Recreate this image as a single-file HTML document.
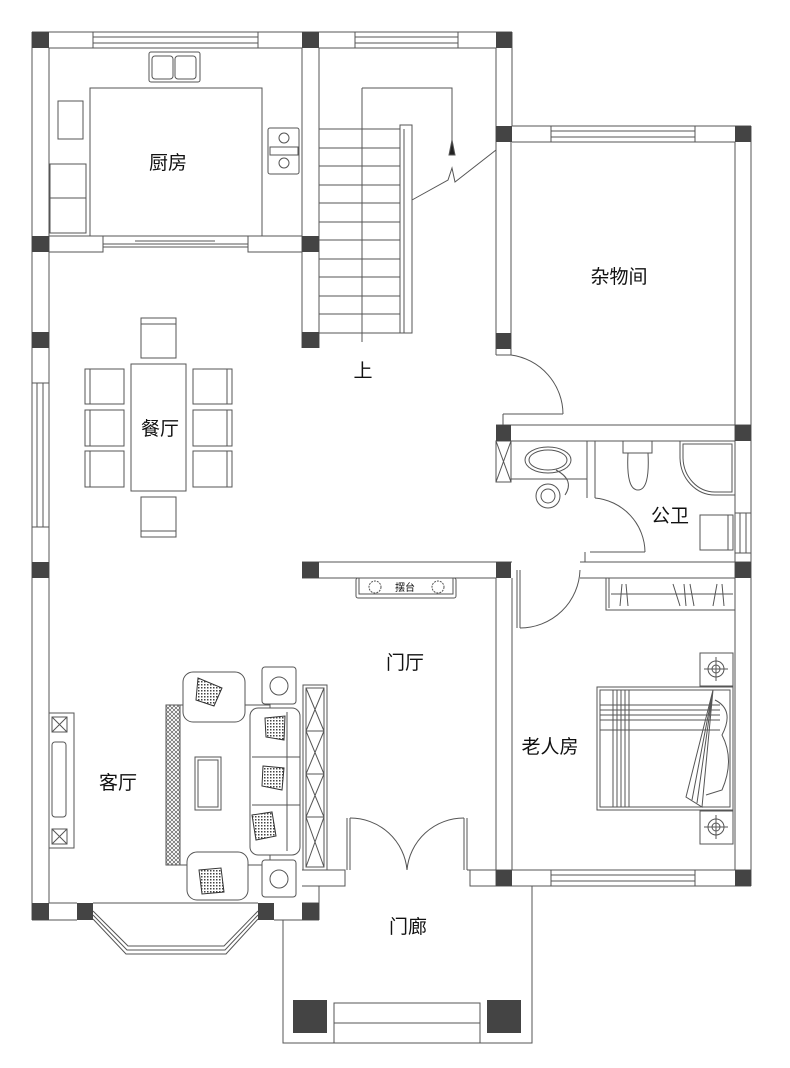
<!DOCTYPE html>
<html><head><meta charset="utf-8"><style>
html,body{margin:0;padding:0;background:#fff}
svg{display:block}
text{font-family:"Liberation Sans","Noto Sans CJK SC",sans-serif;fill:#111}
</style></head><body>
<svg width="790" height="1068" viewBox="0 0 790 1068" xmlns="http://www.w3.org/2000/svg">
<defs>
<pattern id="h" width="4" height="4" patternUnits="userSpaceOnUse"><path d="M0 4L4 0M0 0L4 4" stroke="#444" stroke-width="0.6"/></pattern>
<pattern id="d" width="3" height="3" patternUnits="userSpaceOnUse"><rect width="3" height="3" fill="#fff"/><rect width="1.5" height="1.5" fill="#444"/></pattern>
</defs>
<g fill="none" stroke="#555" stroke-width="1">
<line x1="32" y1="32" x2="32" y2="920"/><line x1="49" y1="48" x2="49" y2="903"/>
<line x1="32" y1="32" x2="512" y2="32"/><line x1="49" y1="48" x2="302" y2="48"/><line x1="319" y1="48" x2="496" y2="48"/>
<rect x="93" y="32" width="165" height="16"/><line x1="93" y1="37" x2="258" y2="37"/><line x1="93" y1="43" x2="258" y2="43"/>
<rect x="355" y="32" width="103" height="16"/><line x1="355" y1="37" x2="458" y2="37"/><line x1="355" y1="43" x2="458" y2="43"/>
<line x1="302" y1="48" x2="302" y2="348"/><line x1="319" y1="48" x2="319" y2="348"/>
<line x1="496" y1="48" x2="496" y2="150"/><line x1="512" y1="32" x2="512" y2="126"/>
<line x1="512" y1="126" x2="751" y2="126"/><line x1="512" y1="142" x2="735" y2="142"/>
<rect x="551" y="126" width="144" height="16"/><line x1="551" y1="131" x2="695" y2="131"/><line x1="551" y1="137" x2="695" y2="137"/>
<line x1="751" y1="126" x2="751" y2="886"/><line x1="735" y1="142" x2="735" y2="870"/>
<line x1="496" y1="142" x2="496" y2="355"/><line x1="511" y1="142" x2="511" y2="355"/><line x1="496" y1="355" x2="511" y2="355"/>
<path d="M511 355 A60 60 0 0 1 563 414"/><line x1="503" y1="414" x2="563" y2="414"/><line x1="503" y1="414" x2="503" y2="425"/>
<line x1="496" y1="425" x2="751" y2="425"/><line x1="511" y1="441" x2="735" y2="441"/>
<rect x="496" y="441" width="15" height="41"/><path d="M496 441L511 482M511 441L496 482"/>
<rect x="511" y="441" width="76" height="38"/>
<ellipse cx="548" cy="460" rx="23" ry="13"/><ellipse cx="548" cy="460" rx="19" ry="10"/>
<circle cx="548" cy="496" r="12"/><circle cx="548" cy="496" r="7"/><path d="M556 470 Q575 480 565 495"/>
<line x1="587" y1="441" x2="587" y2="498"/><line x1="595" y1="441" x2="595" y2="498"/>
<rect x="623" y="441" width="29" height="12"/><path d="M628 453 Q626 490 638 490 Q650 490 648 453"/>
<path d="M680 441 H735 V495 H715 A35 38 0 0 1 680 458 Z"/><path d="M683 444 H732 V492 H715 A32 35 0 0 1 683 458 Z"/>
<path d="M595 498 A55 55 0 0 1 645 552"/><line x1="590" y1="552" x2="645" y2="552"/><line x1="585" y1="552" x2="585" y2="562"/>
<rect x="700" y="515" width="33" height="35"/><rect x="728" y="515" width="5" height="35"/>
<rect x="735" y="513" width="16" height="40"/><line x1="740" y1="513" x2="740" y2="553"/><line x1="746" y1="513" x2="746" y2="553"/>
<line x1="580" y1="562" x2="751" y2="562"/><line x1="580" y1="578" x2="735" y2="578"/>
<line x1="302" y1="562" x2="512" y2="562"/><line x1="302" y1="578" x2="496" y2="578"/>
<rect x="356" y="578" width="100" height="20" rx="2"/><rect x="359" y="578" width="94" height="16"/>
<circle cx="375" cy="587" r="6" stroke-dasharray="2 1"/><circle cx="438" cy="587" r="6" stroke-dasharray="2 1"/>
<line x1="520" y1="570" x2="520" y2="628"/><line x1="517" y1="570" x2="517" y2="628"/>
<path d="M520 628 A60 60 0 0 0 580 570"/>
<line x1="496" y1="578" x2="496" y2="886"/><line x1="512" y1="578" x2="512" y2="870"/>
<line x1="470" y1="870" x2="751" y2="870"/><line x1="512" y1="886" x2="751" y2="886"/>
<rect x="551" y="870" width="144" height="16"/><line x1="551" y1="875" x2="695" y2="875"/><line x1="551" y1="881" x2="695" y2="881"/>
<rect x="606" y="578" width="129" height="32"/><line x1="609" y1="578" x2="609" y2="608"/><line x1="611" y1="594" x2="733" y2="594"/>
<path d="M622 584L620 606M626 584L628 606M673 584L680 606M684 584L686 606M690 584L694 606M717 584L713 606M722 584L724 606"/>
<rect x="700" y="653" width="33" height="33"/><circle cx="716" cy="669" r="8"/><circle cx="716" cy="669" r="4"/><path d="M704 669H728M716 657V681"/>
<rect x="700" y="811" width="33" height="33"/><circle cx="716" cy="827" r="8"/><circle cx="716" cy="827" r="4"/><path d="M704 827H728M716 815V839"/>
<rect x="597" y="687" width="136" height="123"/><rect x="600" y="690" width="130" height="117"/>
<path d="M613 690V807M617 690V807M621 690V807M625 690V807M629 690V807M600 705H720M600 710H720M600 715H720M600 720H720M600 730H720"/>
<path d="M713 690 L686 797 L702 807 Z M713 690 L692 800 M713 690 L697 803"/>
<path d="M715 700 Q735 710 722 735 Q735 760 722 790 L706 795"/>
<path d="M319 129H400M319 148H400M319 166H400M319 185H400M319 203H400M319 222H400M319 240H400M319 259H400M319 277H400M319 296H400M319 314H400M319 333H400"/>
<path d="M362 88V342M362 88H452V150"/>
<path d="M452 140 L449 155 L455 155 Z" fill="#222"/>
<rect x="400" y="125" width="12" height="208"/><line x1="404" y1="129" x2="404" y2="333"/>
<path d="M412 200 L448 180 L452 168 L455 182 L496 150"/>
<line x1="49" y1="236" x2="49" y2="252"/>
<rect x="49" y="236" width="54" height="16"/><rect x="248" y="236" width="54" height="16"/>
<path d="M103 244H248M103 247H248M135 241H175M175 241H215"/>
<rect x="90" y="88" width="172" height="148"/>
<rect x="149" y="52" width="51" height="30" rx="2"/><rect x="152" y="56" width="21" height="23" rx="3"/><rect x="175" y="56" width="21" height="23" rx="3"/>
<rect x="58" y="101" width="25" height="38"/>
<rect x="50" y="164" width="36" height="69"/><line x1="50" y1="198" x2="86" y2="198"/>
<rect x="268" y="128" width="31" height="46" rx="2"/><circle cx="284" cy="138" r="5"/><circle cx="284" cy="163" r="5"/><rect x="270" y="147" width="28" height="8"/>
<rect x="131" y="364" width="55" height="127"/>
<rect x="141" y="318" width="35" height="40"/><line x1="141" y1="324" x2="176" y2="324"/>
<rect x="141" y="497" width="35" height="40"/><line x1="141" y1="531" x2="176" y2="531"/>
<rect x="85" y="369" width="39" height="35"/><line x1="90" y1="369" x2="90" y2="404"/>
<rect x="85" y="410" width="39" height="36"/><line x1="90" y1="410" x2="90" y2="446"/>
<rect x="85" y="451" width="39" height="36"/><line x1="90" y1="451" x2="90" y2="487"/>
<rect x="193" y="369" width="39" height="35"/><line x1="227" y1="369" x2="227" y2="404"/>
<rect x="193" y="410" width="39" height="36"/><line x1="227" y1="410" x2="227" y2="446"/>
<rect x="193" y="451" width="39" height="36"/><line x1="227" y1="451" x2="227" y2="487"/>
<rect x="32" y="383" width="17" height="144"/><line x1="37" y1="383" x2="37" y2="527"/><line x1="43" y1="383" x2="43" y2="527"/>
<rect x="49" y="713" width="25" height="135"/><rect x="52" y="717" width="15" height="15"/><path d="M52 717L67 732M67 717L52 732"/>
<rect x="52" y="829" width="15" height="15"/><path d="M52 829L67 844M67 829L52 844"/><rect x="52" y="742" width="14" height="75" rx="3"/>
<line x1="49" y1="903" x2="77" y2="903"/><line x1="93" y1="903" x2="258" y2="903"/>
<path d="M93 915 L127 950 L225 950 L258 915"/><path d="M93 911 L128 946 L224 946 L258 911"/><path d="M93 919 L126 954 L226 954 L258 919"/>
<rect x="166" y="705" width="14" height="160" fill="url(#h)"/>
<rect x="166" y="705" width="104" height="160"/>
<rect x="183" y="672" width="62" height="50" rx="10" fill="#fff"/><rect x="187" y="852" width="61" height="48" rx="10" fill="#fff"/>
<rect x="250" y="708" width="50" height="147" rx="8" fill="#fff"/>
<path d="M252 757H300M252 805H300M287 712V851"/>
<rect x="262" y="667" width="34" height="37" rx="3" fill="#fff"/><circle cx="279" cy="686" r="9"/>
<rect x="262" y="860" width="34" height="37" rx="3" fill="#fff"/><circle cx="279" cy="879" r="9"/>
<rect x="195" y="757" width="26" height="53"/><rect x="198" y="760" width="20" height="47"/>
<rect x="303" y="685" width="24" height="185"/><rect x="306" y="688" width="18" height="179"/>
<path d="M306 688L324 731L306 774L324 817L306 867M324 688L306 731L324 774L306 817L324 867M306 731H324M306 774H324M306 817H324"/>
<g fill="url(#d)" stroke="#333"><path d="M198 678L222 688L214 706L196 700Z"/><path d="M265 718L285 716L284 740L266 737Z"/><path d="M263 766L284 768L282 790L262 786Z"/><path d="M252 815L272 812L276 836L256 840Z"/><path d="M199 870L221 868L224 892L202 894Z"/></g>
<path d="M302 870H345V886H302M319 886V903H302"/>
<path d="M467 870H496M470 870V886H512"/>
<line x1="347" y1="818" x2="347" y2="870"/><line x1="350" y1="818" x2="350" y2="870"/>
<line x1="467" y1="818" x2="467" y2="870"/><line x1="464" y1="818" x2="464" y2="870"/>
<path d="M350 818 A57 57 0 0 1 407 870"/><path d="M464 818 A57 57 0 0 0 407 870"/>
<line x1="319" y1="903" x2="319" y2="920"/><line x1="274" y1="920" x2="319" y2="920"/><line x1="32" y1="920" x2="77" y2="920"/>
<path d="M283 920V1043H532V886"/>
<rect x="334" y="1003" width="146" height="40"/><line x1="334" y1="1023" x2="480" y2="1023"/>
</g>
<g fill="#444">
<rect x="32" y="32" width="17" height="16"/><rect x="302" y="32" width="17" height="16"/><rect x="496" y="32" width="16" height="16"/>
<rect x="496" y="126" width="16" height="16"/><rect x="735" y="126" width="16" height="16"/>
<rect x="32" y="236" width="17" height="16"/><rect x="302" y="236" width="17" height="16"/>
<rect x="32" y="332" width="17" height="16"/><rect x="302" y="332" width="17" height="16"/><rect x="496" y="333" width="15" height="16"/>
<rect x="496" y="425" width="15" height="16"/><rect x="735" y="425" width="16" height="16"/>
<rect x="32" y="562" width="17" height="16"/><rect x="302" y="562" width="17" height="16"/><rect x="496" y="562" width="15" height="16"/><rect x="735" y="562" width="16" height="16"/>
<rect x="496" y="870" width="16" height="16"/><rect x="735" y="870" width="16" height="16"/>
<rect x="32" y="903" width="17" height="17"/><rect x="77" y="903" width="16" height="17"/><rect x="258" y="903" width="16" height="17"/><rect x="302" y="903" width="17" height="17"/>
<rect x="293" y="1000" width="34" height="33"/><rect x="487" y="1000" width="34" height="33"/>
</g>
<g font-size="19">
<text x="168" y="169" text-anchor="middle">厨房</text>
<text x="619" y="283" text-anchor="middle">杂物间</text>
<text x="363" y="377" text-anchor="middle">上</text>
<text x="160" y="435" text-anchor="middle">餐厅</text>
<text x="670" y="522" text-anchor="middle">公卫</text>
<text x="405" y="669" text-anchor="middle">门厅</text>
<text x="550" y="753" text-anchor="middle">老人房</text>
<text x="118" y="789" text-anchor="middle">客厅</text>
<text x="408" y="933" text-anchor="middle">门廊</text>
</g>
<text x="405" y="591" text-anchor="middle" font-size="10">摆台</text>
</svg>
</body></html>
